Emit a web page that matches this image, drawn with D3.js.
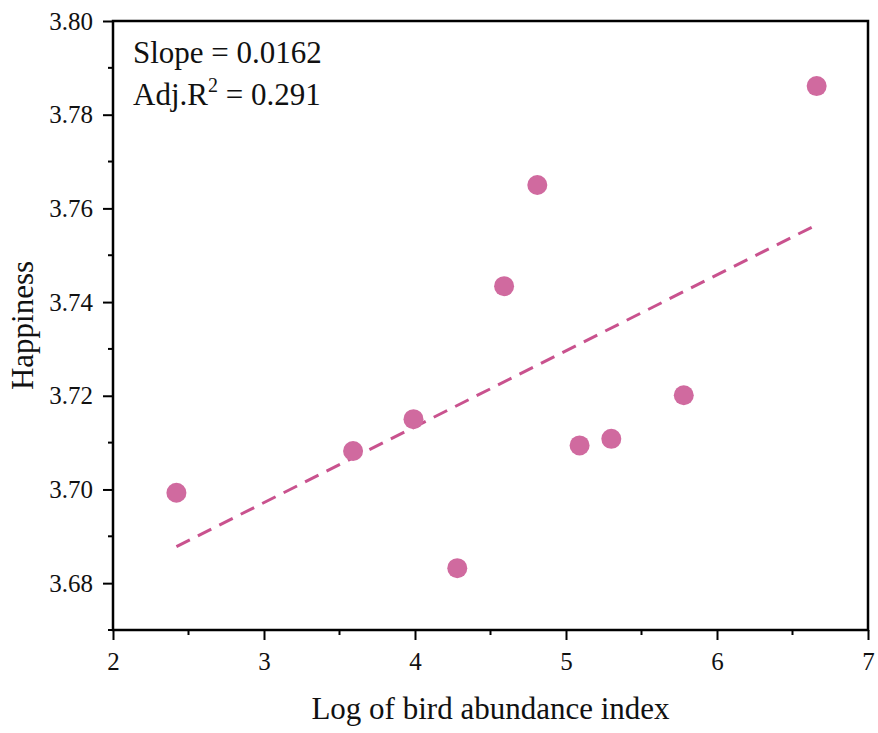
<!DOCTYPE html>
<html>
<head>
<meta charset="utf-8">
<script src="https://cdn.jsdelivr.net/npm/d3@7"></script>
<style>
  body { margin: 0; background: #fff; }
  text { font-family: "Liberation Serif", "Times New Roman", serif; fill: #111; }
</style>
</head>
<body>
<script>
// bird abundance (log) vs happiness
var birdIndex = [2.42, 3.59, 3.99, 4.28, 4.59, 4.81, 5.09, 5.30, 5.78, 6.66];
var happiness = [3.6993, 3.7082, 3.7150, 3.6832, 3.7434, 3.7650, 3.7094, 3.7108, 3.7201, 3.7861];
var fitX = [2.42, 6.66];
var fitY = [3.6878, 3.7565];
var xTicks = [2, 3, 4, 5, 6, 7];
var yTicks = [3.68, 3.70, 3.72, 3.74, 3.76, 3.78, 3.80];

var W = 878, H = 733;
var m = {left: 113, right: 10, top: 21, bottom: 103};

var svg = d3.select('body').append('svg')
  .attr('width', W)
  .attr('height', H);

var x = d3.scaleLinear().domain([2, 7]).range([m.left, W - m.right]);
var y = d3.scaleLinear().domain([3.67, 3.80]).range([H - m.bottom, m.top]);

var pink = '#d06a9f';

// frame
svg.append('rect')
  .attr('x', x(2)).attr('y', y(3.80))
  .attr('width', x(7) - x(2)).attr('height', y(3.67) - y(3.80))
  .attr('fill', 'none').attr('stroke', '#000').attr('stroke-width', 2.5);

// minor ticks
var xMinor = d3.range(2.5, 7, 1);
var yMinor = d3.range(3.67, 3.80, 0.02);
svg.append('g').selectAll('line').data(xMinor).enter().append('line')
  .attr('x1', d => x(d)).attr('x2', d => x(d))
  .attr('y1', y(3.67)).attr('y2', y(3.67) + 5)
  .attr('stroke', '#000').attr('stroke-width', 2);
svg.append('g').selectAll('line').data(yMinor).enter().append('line')
  .attr('y1', d => y(d)).attr('y2', d => y(d))
  .attr('x1', x(2)).attr('x2', x(2) - 5)
  .attr('stroke', '#000').attr('stroke-width', 2);

var xAxis = svg.append('g')
  .attr('transform', 'translate(0,' + y(3.67) + ')')
  .call(d3.axisBottom(x).tickValues(xTicks).tickFormat(d3.format('d')).tickSize(10).tickPadding(12));
var yAxis = svg.append('g')
  .attr('transform', 'translate(' + x(2) + ',0)')
  .call(d3.axisLeft(y).tickValues(yTicks).tickFormat(d3.format('.2f')).tickSize(10).tickPadding(10));

[xAxis, yAxis].forEach(function (g) {
  g.select('.domain').remove();
  g.selectAll('line').attr('stroke', '#000').attr('stroke-width', 2);
  g.selectAll('text')
    .style('font-family', '"Liberation Serif", serif')
    .style('font-size', '25px')
    .attr('fill', '#111');
});

// fitted line
svg.append('line')
  .attr('x1', x(fitX[0])).attr('y1', y(fitY[0]))
  .attr('x2', x(fitX[1])).attr('y2', y(fitY[1]))
  .attr('stroke', '#c9528e')
  .attr('stroke-width', 3)
  .attr('stroke-dasharray', '15,9');

// points
svg.append('g').selectAll('circle')
  .data(birdIndex)
  .enter()
  .append('circle')
  .attr('cx', d => x(d))
  .attr('cy', (d, i) => y(happiness[i]))
  .attr('r', 10)
  .attr('fill', pink);

// annotation
svg.append('text')
  .attr('x', 133).attr('y', 63)
  .style('font-size', '31px')
  .text('Slope = 0.0162');
var r2 = svg.append('text')
  .attr('x', 133).attr('y', 105)
  .style('font-size', '31px');
r2.append('tspan').text('Adj.R');
r2.append('tspan').attr('dy', -13).style('font-size', '20px').text('2');
r2.append('tspan').attr('dy', 13).text(' = 0.291');

// axis titles
svg.append('text')
  .attr('x', (x(2) + x(7)) / 2).attr('y', 719)
  .attr('text-anchor', 'middle')
  .style('font-size', '31px')
  .text('Log of bird abundance index');

svg.append('text')
  .attr('transform', 'translate(33,' + (y(3.735)) + ') rotate(-90)')
  .attr('text-anchor', 'middle')
  .style('font-size', '31px')
  .text('Happiness');
</script>
</body>
</html>
